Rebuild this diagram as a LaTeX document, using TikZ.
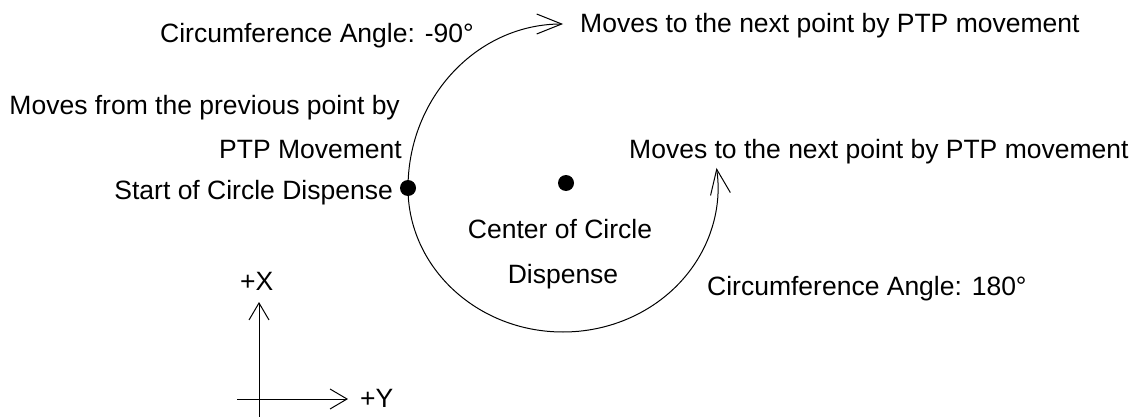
\documentclass[tikz,border=0pt]{standalone}
\usepackage{fontspec}
\setmainfont{Liberation Sans}
\usetikzlibrary{arrows.meta}
\begin{document}
\begin{tikzpicture}[x=1pt,y=1pt,
  lbl/.style={inner sep=0pt,font=\fontsize{26.5}{30}\selectfont},
  dot/.style={circle,fill=black,inner sep=0pt,minimum size=16pt},
  bigarrow/.style={line width=1pt,-{Straight Barb[length=25pt,width=20pt,line width=1pt]}},
  axarrow/.style={line width=1pt,-{Straight Barb[length=17pt,width=20pt,line width=1pt]}}]
\useasboundingbox (0,0) rectangle (1143,-417);
% dots
\node[dot] (start) at (408,-188) {};
\node[dot] (center) at (566,-183) {};
% arc endpoints
\coordinate (toptip) at (564,-24);
% texts
\node[lbl,anchor=base west] (ang90) at (160,-43) {Circumference Angle: -90°};
\node[lbl,anchor=base west] (next1) at (580,-33) {Moves to the next point by PTP movement};
\node[lbl,anchor=base east] (prev1) at (400,-115) {Moves from the previous point by};
\node[lbl,anchor=base east] (prev2) at (402,-159) {PTP Movement};
\node[lbl,anchor=base east] (startlbl) at (393,-199) {Start of Circle Dispense};
\node[lbl,anchor=base west] (next2) at (629,-158) {Moves to the next point by PTP movement};
\node[lbl,anchor=base] (cen1) at (560,-238) {Center of Circle};
\node[lbl,anchor=base] (cen2) at (563,-283) {Dispense};
\node[lbl,anchor=base west] (ang180) at (707,-295) {Circumference Angle: 180°};
\node[lbl,anchor=base west] (xlbl) at (240,-290) {+X};
\node[lbl,anchor=base west] (ylbl) at (360,-407) {+Y};
% arcs
\draw[bigarrow] (start.center) arc[start angle=180,end angle=90,x radius=155,y radius=164];
\draw[bigarrow] (start.center) arc[start angle=180,end angle=368,x radius=155,y radius=144] coordinate (righttip);
% axes
\coordinate (xbot) at (259,-417);
\coordinate (xtip) at (259,-302);
\coordinate (yleft) at (237,-399);
\coordinate (ytip) at (348,-399);
\draw[axarrow] (xbot) -- (xtip);
\draw[axarrow] (yleft) -- (ytip);
\end{tikzpicture}
\end{document}
